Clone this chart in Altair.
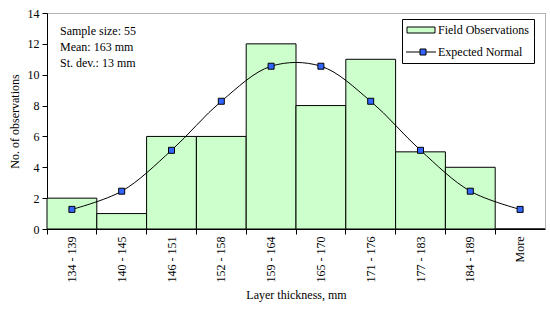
import altair as alt
import pandas as pd

categories = ["134 - 139", "140 - 145", "146 - 151", "152 - 158", "159 - 164",
              "165 - 170", "171 - 176", "177 - 183", "184 - 189", "More"]
observed = [2, 1, 6, 6, 12, 8, 11, 5, 4, 0]
expected = [1.27, 2.45, 5.1, 8.28, 10.55, 10.55, 8.28, 5.1, 2.45, 1.27]
series_names = ["Field Observations", "Expected Normal"]
series_colors = ["#CCFFCC", "#3366FF"]
notes = ["Sample size: 55", "Mean: 163 mm", "St. dev.: 13 mm"]

FONT = "Liberation Serif"

df_bar = pd.DataFrame({"bin": categories, "count": observed})
df_line = pd.DataFrame({"bin": categories, "value": expected})
df_notes = pd.DataFrame({"note": ["\n".join(notes)]})
df_leg = pd.DataFrame({"series": series_names})

x_scale = alt.Scale(paddingInner=0, paddingOuter=0)
x_axis = alt.Axis(
    title="Layer thickness, mm", labelAngle=-90, labelAlign="right",
    labelBaseline="middle", labelPadding=2, tickSize=5, bandPosition=0,
    domainColor="black", tickColor="black", titlePadding=8,
    labelFont=FONT, titleFont=FONT, labelFontSize=12, titleFontSize=12,
    titleFontWeight="normal", labelColor="black", titleColor="black",
)
y_scale = alt.Scale(domain=[0, 14], nice=False)
y_axis = alt.Axis(
    title="No. of observations", values=list(range(0, 15, 2)), tickSize=5,
    grid=False, domainColor="black", tickColor="black", labelPadding=3,
    titlePadding=6, labelFont=FONT, titleFont=FONT, labelFontSize=12,
    titleFontSize=12, titleFontWeight="normal", labelColor="black",
    titleColor="black", labelOverlap=False,
)


def xe():
    return alt.X("bin:N", sort=categories, scale=x_scale, axis=x_axis)


rect_path = "M-3.2,-0.6H2.4V0.6H-3.2Z"
line_path = "M-3.4,0H-0.6M0.6,0H2.6M-0.6,-0.6H0.6V0.6H-0.6Z"

legend = alt.Legend(
    title=None, orient="none", legendX=355, legendY=6,
    strokeColor="black", fillColor="white", padding=5,
    rowPadding=10, symbolSize=100, symbolOffset=10, labelOffset=9,
    symbolStrokeColor="black", symbolStrokeWidth=1, symbolOpacity=1,
    labelFont=FONT, labelFontSize=12, labelColor="black",
)

bars = alt.Chart(df_bar).mark_bar(fill="#CCFFCC", stroke="black", strokeWidth=1).encode(
    x=xe(),
    y=alt.Y("count:Q", scale=y_scale, axis=y_axis),
)

legend_layer = alt.Chart(df_leg).mark_point(
    filled=True, strokeWidth=1, size=100, clip=True,
).encode(
    x=alt.value(-200), y=alt.value(-200),
    fill=alt.Fill("series:N", scale=alt.Scale(domain=series_names, range=series_colors), legend=legend),
    shape=alt.Shape("series:N", scale=alt.Scale(domain=series_names, range=[rect_path, line_path]), legend=legend),
    stroke=alt.Stroke("series:N", scale=alt.Scale(domain=series_names, range=["black", "black"]), legend=legend),
)

line = alt.Chart(df_line).mark_line(color="black", strokeWidth=1, interpolate="catmull-rom").encode(
    x=xe(),
    y=alt.Y("value:Q", scale=y_scale, axis=y_axis),
)
points = alt.Chart(df_line).mark_point(
    shape="square", filled=True, fill="#3366FF", stroke="black", strokeWidth=1,
    size=36, opacity=1,
).encode(
    x=xe(),
    y=alt.Y("value:Q", scale=y_scale, axis=y_axis),
)

texts = alt.Chart(df_notes).mark_text(
    align="left", baseline="top", font=FONT, fontSize=12, color="black",
    lineBreak="\n", lineHeight=16,
).encode(
    text="note:N",
    x=alt.value(13),
    y=alt.value(13),
)

chart = alt.layer(bars, line, points, texts, legend_layer).properties(
    width=498, height=216,
    autosize=alt.AutoSizeParams(type="none"),
    padding={"left": 47, "top": 13, "right": 5, "bottom": 86},
    background="white",
).configure_view(stroke="#666666", strokeWidth=1, strokeDash=[1, 1])

chart.save("out.html", embed_options={"renderer": "svg", "actions": False})
